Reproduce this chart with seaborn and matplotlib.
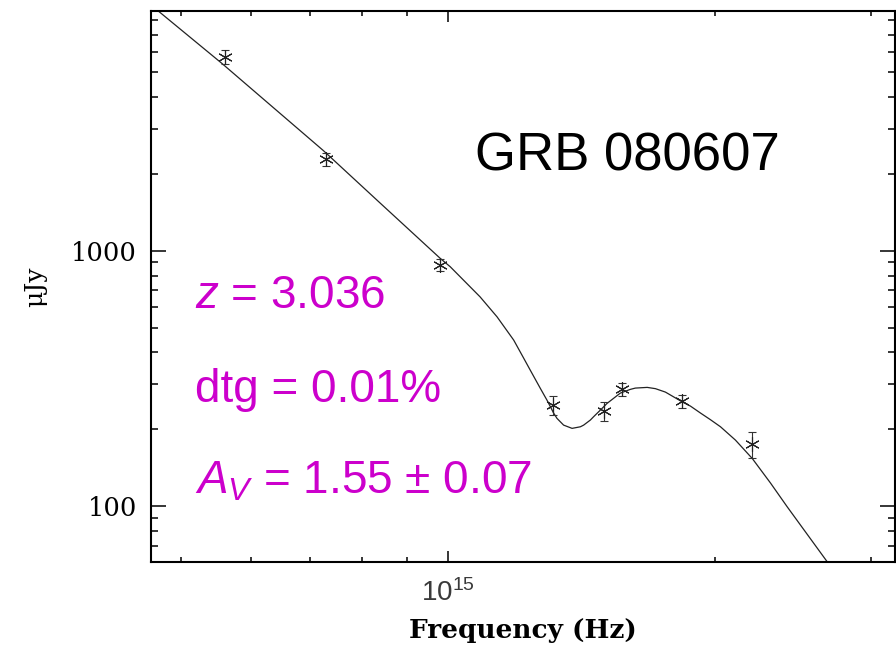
import numpy as np
import pandas as pd
import matplotlib
matplotlib.use("Agg")
import matplotlib.pyplot as plt
import seaborn as sns
from matplotlib.ticker import FixedLocator, NullFormatter, LogLocator

# =========================
# Data
# =========================
# photometric points: frequency (Hz), flux (uJy), 1-sigma error
freq_obs = [5.61e14, 7.29e14, 9.80e14, 1.312e15, 1.500e15, 1.571e15, 1.837e15, 2.202e15]
flux_obs = [5750, 2280, 879, 249, 236, 287, 258, 175]
flux_err = [345, 130, 46, 21.5, 20.8, 16.8, 15.0, 20.6]

# best-fit model curve
freq_model = [4.718e14, 5.563e14, 7.242e14, 8.389e14, 9.802e14, 1.006e15, 1.087e15,
              1.136e15, 1.186e15, 1.217e15, 1.238e15, 1.271e15, 1.293e15, 1.315e15,
              1.327e15, 1.344e15, 1.350e15, 1.380e15, 1.410e15, 1.422e15, 1.447e15,
              1.459e15, 1.485e15, 1.511e15, 1.564e15, 1.605e15, 1.626e15, 1.677e15,
              1.713e15, 1.758e15, 1.836e15, 1.876e15, 1.926e15, 1.975e15, 2.028e15,
              2.108e15, 2.202e15, 2.309e15, 2.411e15, 2.529e15, 2.675e15]
flux_model = [8686, 5420, 2465, 1537, 934, 866, 660,
              551, 447, 380, 341, 289, 260, 232,
              220.6, 210.9, 207.6, 201.6, 204.5, 207.6, 217.3,
              223.8, 237.7, 252.5, 277.1, 286.5, 289.9, 291.7,
              288.4, 279.6, 256.1, 246.4, 231.3, 218.2, 204.5,
              181.4, 153.7, 123.1, 99.4, 79.1, 60.5]

x_limits = (4.624e14, 3.186e15)
y_limits = (60.4, 8650)

title_text = "GRB 080607"
fit_lines = [r"$z$ = 3.036", "dtg = 0.01%", r"$A_V$ = 1.55 ± 0.07"]

# =========================
# Style
# =========================
sns.set_theme(style="ticks")
plt.rcParams["font.family"] = ["DejaVu Serif"]
plt.rcParams["mathtext.fontset"] = "custom"
plt.rcParams["mathtext.rm"] = "Liberation Sans"
plt.rcParams["mathtext.it"] = "Liberation Sans:italic"
plt.rcParams.update({"text.color": "black", "axes.labelcolor": "black",
                     "xtick.color": "black", "ytick.color": "black"})

magenta = "#cc00cc"

fig = plt.figure(figsize=(8.96, 6.49), dpi=100)
ax = fig.add_axes([0.168, 0.134, 0.8305, 0.8483])
ax.set_xscale("log")
ax.set_yscale("log")

model_df = pd.DataFrame({"freq": freq_model, "flux": flux_model})
sns.lineplot(data=model_df, x="freq", y="flux", ax=ax, estimator=None, sort=False,
             color="#222222", linewidth=0.9)

ax.errorbar(freq_obs, flux_obs, yerr=flux_err, fmt="none", ecolor="#333333",
            elinewidth=0.8, capsize=3.2, capthick=0.8)
ax.plot(freq_obs, flux_obs, linestyle="none", marker=(6, 2, 0), markersize=10.5,
        markeredgecolor="#222222", markeredgewidth=0.8)

ax.set_xlim(*x_limits)
ax.set_ylim(*y_limits)

# ticks: inward, mirrored on all four sides
ax.xaxis.set_major_locator(FixedLocator([1e15]))
ax.xaxis.set_minor_locator(LogLocator(base=10, subs=np.arange(2, 10)))
ax.xaxis.set_minor_formatter(NullFormatter())
ax.set_xticklabels([r"$\mathdefault{10^{15}}$"], family="Liberation Sans",
                   fontsize=20, color="#3a3a3a")
ax.yaxis.set_major_locator(FixedLocator([100, 1000]))
ax.yaxis.set_minor_locator(LogLocator(base=10, subs=np.arange(2, 10)))
ax.yaxis.set_minor_formatter(NullFormatter())
ax.set_yticklabels(["100", "1000"], fontsize=18.5, color="black")

ax.tick_params(axis="both", which="both", direction="in", top=True, right=True,
               width=1.1, color="black")
ax.tick_params(axis="x", which="major", length=8, pad=12)
ax.tick_params(axis="x", which="minor", length=3.5)
ax.tick_params(axis="y", which="major", length=10.5, pad=9.7)
ax.tick_params(axis="y", which="minor", length=5.3)

for side in ["left", "right", "top", "bottom"]:
    ax.spines[side].set_visible(True)
    ax.spines[side].set_linewidth(1.5)
    ax.spines[side].set_color("black")

ax.set_xlabel("Frequency (Hz)", fontsize=19, fontweight="bold", labelpad=8,
              color="black")
ax.set_ylabel("μJy", fontsize=18, labelpad=17, color="black")

# annotations
ax.text(0.436, 0.712, title_text, transform=ax.transAxes, family="Liberation Sans",
        fontsize=38, color="black", va="baseline", ha="left")
for txt, yb in zip(fit_lines, [0.4609, 0.2912, 0.1248]):
    ax.text(0.0598, yb, txt, transform=ax.transAxes, family="Liberation Sans",
            fontsize=33, color=magenta, va="baseline", ha="left")

fig.savefig("out.png", dpi=100)
